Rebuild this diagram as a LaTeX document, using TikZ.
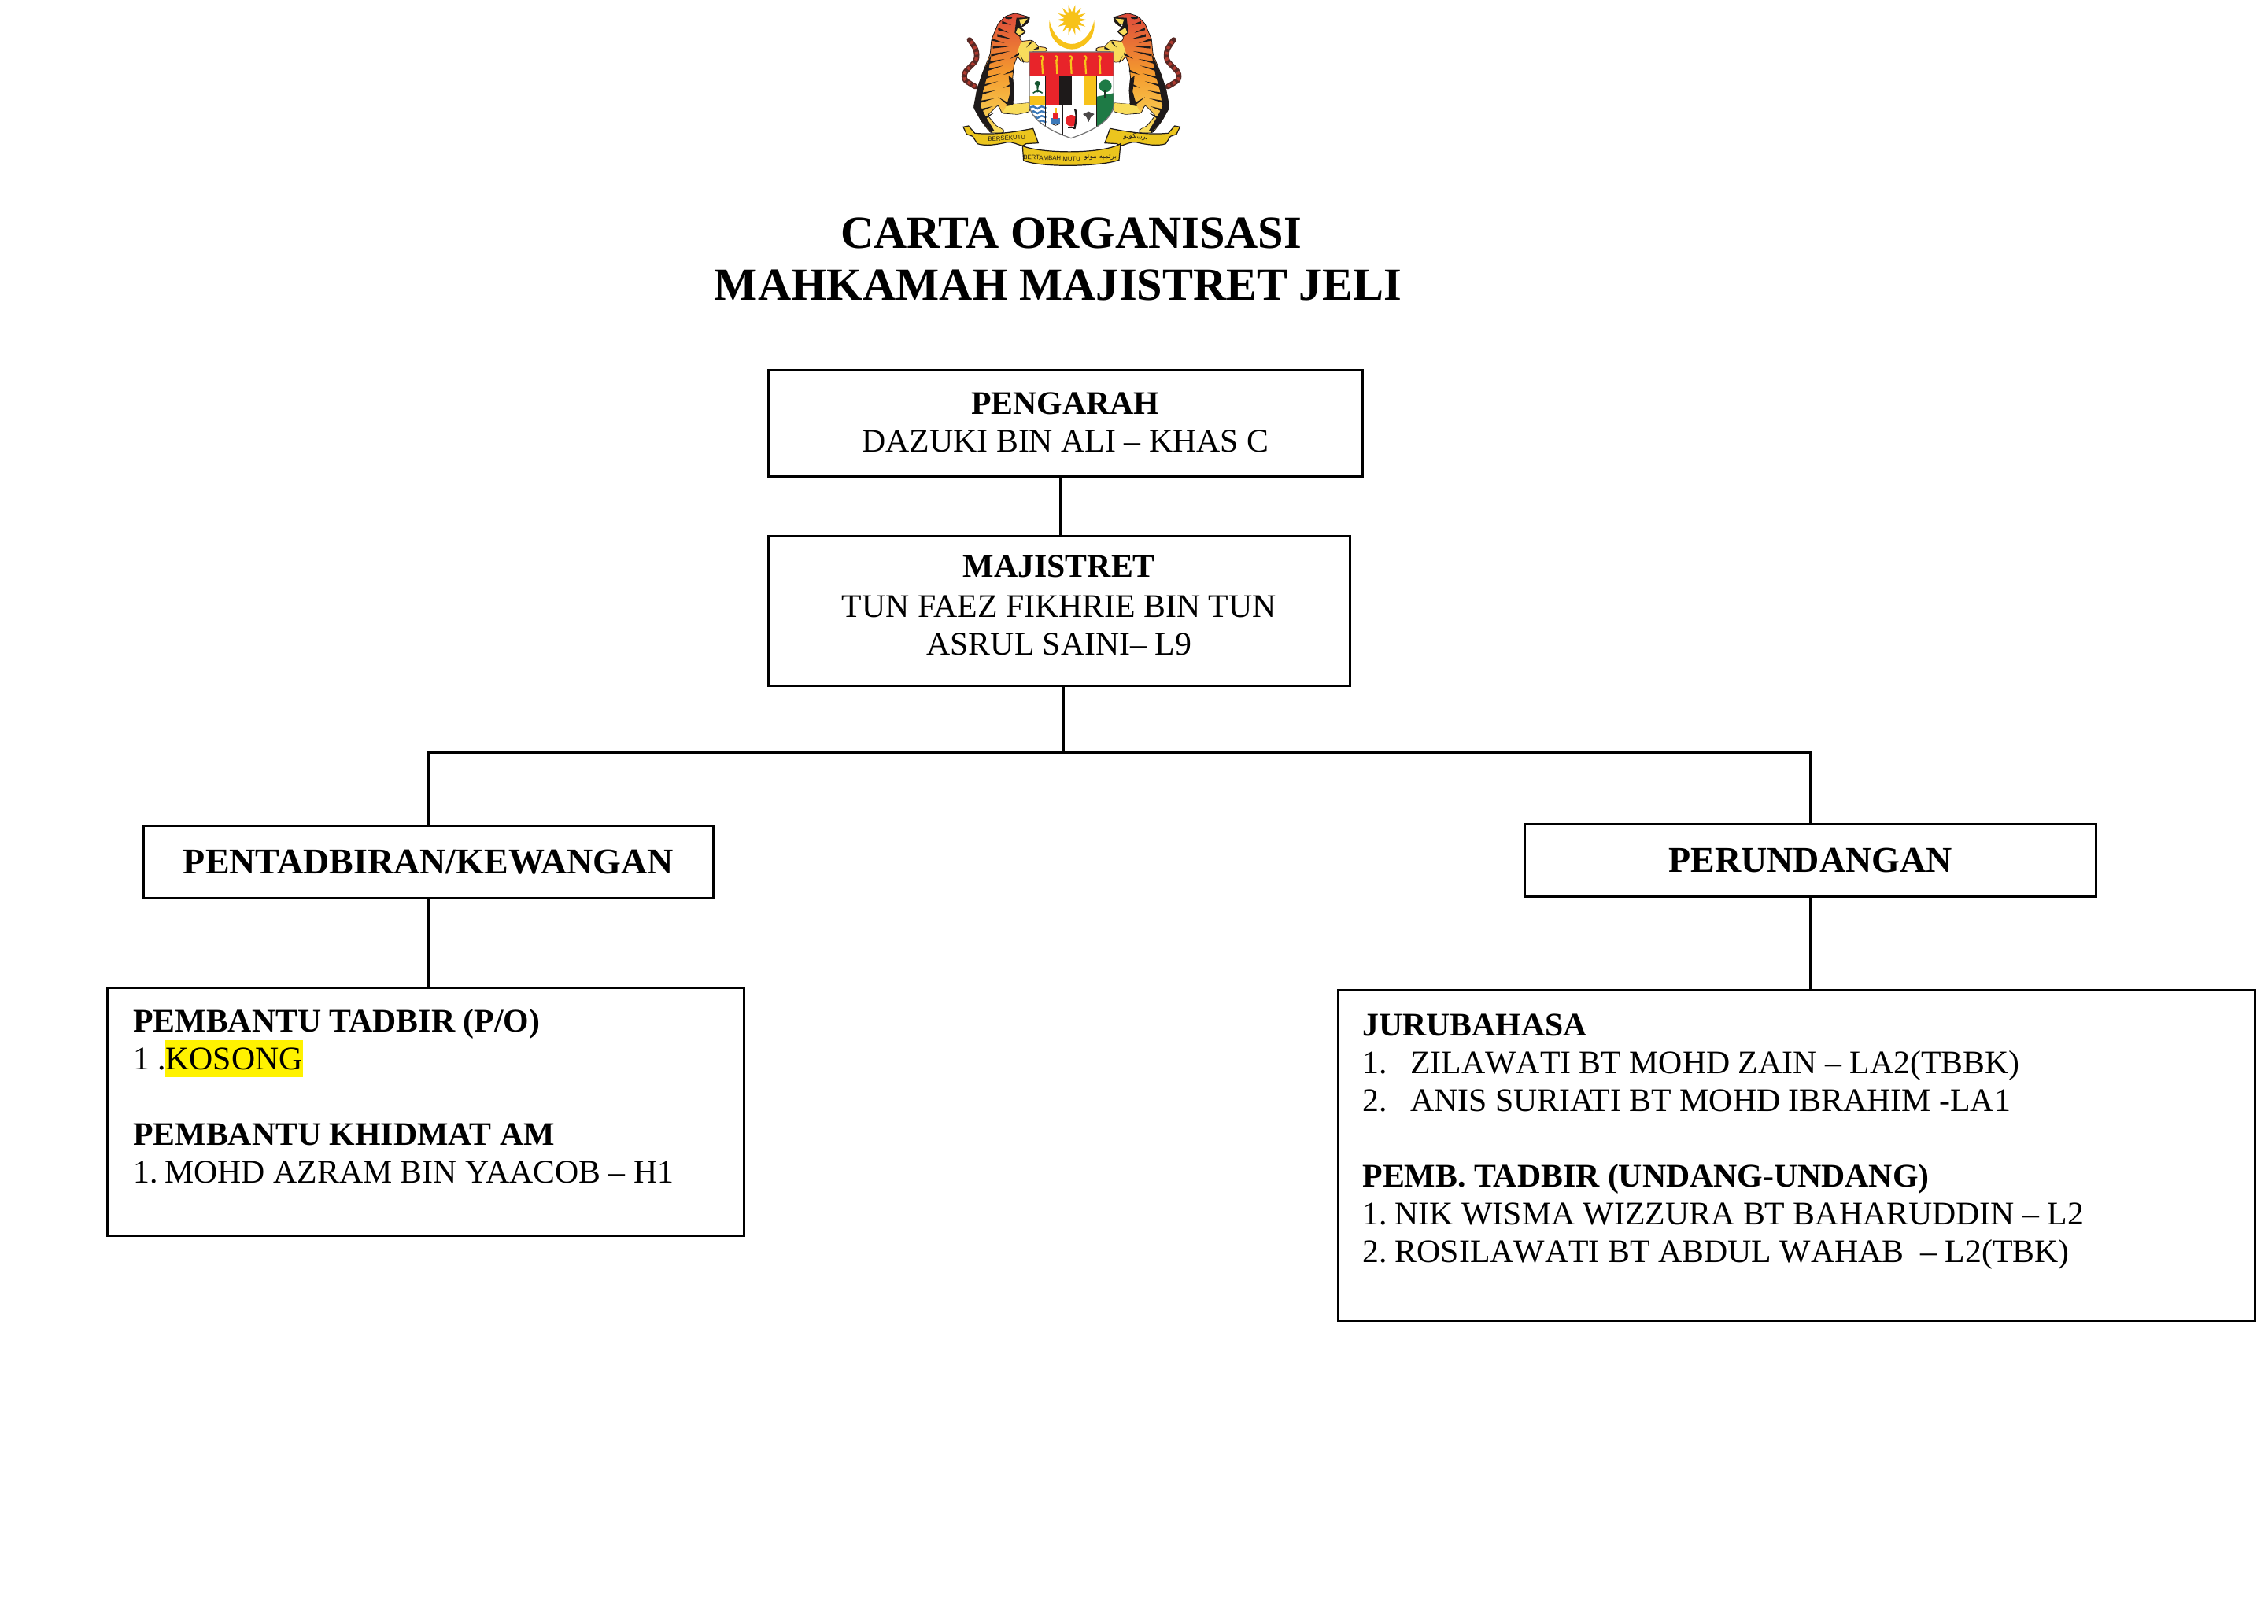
\documentclass[tikz,border=0pt]{standalone}
\usepackage{fontspec}
\setmainfont{Liberation Serif}
\newfontfamily\arabicfont[Script=Arabic]{DejaVu Sans}
\newfontfamily\crestfont{Liberation Sans}
\TeXXeTstate=1
\newdimen\px \px=.24878pt
\definecolor{crestred}{HTML}{E8242A}
\definecolor{crestblack}{HTML}{1E1A1A}
\definecolor{crestgold}{HTML}{F7C21A}
\definecolor{crestgreen}{HTML}{1E7A45}
\definecolor{crestblue}{HTML}{3B78B8}
\definecolor{ribbon}{HTML}{EBC51E}
\definecolor{tigerred}{HTML}{DE4A3C}
\definecolor{tigermid}{HTML}{F49A2E}
\definecolor{tigeryel}{HTML}{F8DC5C}
\tikzset{
  orgbox/.style={draw=black,line width=.75pt,fill=white,inner sep=0pt,outer sep=0pt},
  wire/.style={draw=black,line width=.75pt},
  headtext/.style={font=\fontsize{11.5}{14}\selectfont\bfseries},
  titletext/.style={font=\fontsize{14.6}{16}\selectfont\bfseries,inner sep=0pt,anchor=base},
  cresttext/.style={font=\crestfont\fontsize{1.95}{3}\selectfont,inner sep=0pt,text=crestblack},
  jawitext/.style={font=\arabicfont\fontsize{2.2}{3}\selectfont,inner sep=0pt,text=crestblack},
}
\newcommand{\bodyfont}{\fontsize{10.45}{12}\selectfont}
\newcommand{\orgcontent}[4]{\parbox[c][#2\px][t]{#1\px}{\vspace*{#3\px}\bodyfont\parindent=0pt #4}}
\newcommand{\numitem}[2]{\makebox[61\px][l]{#1}#2}
\newcommand{\nokern}{\addfontfeatures{Kerning=Off}}
\newcommand{\tiger}{%
  % tail
  \draw[line width=1.7pt,crestblack!70!tigerred,line cap=round] plot[smooth] coordinates {(178,330) (140,305) (140,275) (180,230) (180,190) (156,152)};
  \draw[line width=1pt,tigerred!80!black,dash pattern=on .9pt off 1pt] plot[smooth] coordinates {(178,330) (140,305) (140,275) (180,230) (180,190) (156,152)};
  % body
  \path[draw=crestblack,line width=.2pt,top color=tigerred,bottom color=tigeryel,middle color=tigermid,rounded corners=.6pt]
    (292,62) -- (330,50) -- (386,66) -- (380,85) -- (362,100) -- (350,102) -- (370,122) -- (346,140) -- (352,158)
    -- (395,153) -- (420,178) -- (450,182) -- (452,196) -- (395,196) -- (384,205) -- (384,238) -- (355,235) -- (338,215)
    -- (325,250) -- (320,300) -- (325,345) -- (320,398) -- (386,392) -- (386,425) -- (340,436) -- (280,432) -- (265,400)
    -- (225,440) -- (258,480) -- (286,495) -- (286,506) -- (235,506) -- (200,460) -- (172,410)
    -- (185,340) -- (205,280) -- (235,205) -- (240,150) -- (265,90) -- cycle;
  % pale paws
  \fill[tigeryel,rounded corners=.6pt] (352,160) -- (395,155) -- (420,180) -- (449,184) -- (450,195) -- (395,195) -- (383,205) -- (383,237) -- (356,234) -- (336,205) -- cycle;
  \fill[tigeryel,rounded corners=.6pt] (300,398) -- (385,393) -- (385,424) -- (340,435) -- (282,430) -- cycle;
  \fill[tigeryel,rounded corners=.6pt] (240,480) -- (258,481) -- (285,496) -- (285,505) -- (238,505) -- cycle;
  % dark flank
  \fill[crestblack] (240,205) -- (205,280) -- (185,340) -- (172,410) -- (200,460) -- (238,505) -- (250,498) -- (218,445) -- (198,405) -- (208,345) -- (225,285) -- cycle;
  \fill[crestblack] (305,290) -- (322,300) -- (326,345) -- (322,400) -- (296,405) -- (312,350) -- cycle;
  % stripes
  \foreach \a/\b/\c/\d in {
    240/150/290/165, 245/180/305/178, 240/210/310/195, 225/240/290/225, 212/270/285/250,
    205/300/275/280, 195/330/265/310, 190/360/255/345, 190/390/250/375, 200/420/245/405,
    215/450/250/430, 265/110/305/125, 262/135/320/150, 280/85/315/95}
    {\fill[crestblack] (\a,\b-5) -- (\c,\d) -- (\a,\b+5) -- cycle;}
  \foreach \a/\b/\c/\d in {
    345/205/310/225, 325/270/285/285, 322/320/285/335, 300/395/265/370,
    392/160/372/182, 420/182/398/190, 362/236/350/212}
    {\fill[crestblack] (\a,\b-5) -- (\c,\d) -- (\a,\b+5) -- cycle;}
  % face
  \fill[crestblack] (335,68) -- (386,66) -- (380,85) -- (362,100) -- (350,102) -- (370,122) -- (346,140) -- (328,125) -- cycle;
  \fill[tigeryel] (345,74) -- (378,71) -- (360,92) -- (352,95) -- cycle;
  \fill[tigeryel] (340,105) -- (364,122) -- (346,134) -- (333,124) -- cycle;
  \fill[white] (350,96) -- (358,93) -- (354,100) -- cycle;
  \fill[crestblack] (305,68) ellipse (14 and 5);
}
\begin{document}
\begin{tikzpicture}[x=.24878pt,y=-.24878pt]
\useasboundingbox (0,0) rectangle (2896.2,2073.6);
\fill[white] (0,0) rectangle (2896.2,2073.6);

% ---------- crest ----------
\begin{scope}[shift={(1185.8,0)},x=.083333pt,y=-.083333pt]
  % sun
  \fill[crestgold] (546,76) circle (32);
  \foreach \k in {0,...,13}
    \fill[crestgold] ({546+58*cos(\k*360/14)},{76+58*sin(\k*360/14)})
      -- ({546+28*cos(\k*360/14+14)},{76+28*sin(\k*360/14+14)})
      -- ({546+28*cos(\k*360/14-14)},{76+28*sin(\k*360/14-14)}) -- cycle;
  % crescent
  \fill[crestgold] (461,78) .. controls (452,150) and (505,188) .. (546,188)
     .. controls (587,188) and (640,150) .. (631,78)
     .. controls (620,130) and (585,168) .. (546,168)
     .. controls (507,168) and (472,130) .. (461,78) -- cycle;
  % tigers
  \tiger
  \begin{scope}[shift={(1090,0)},xscale=-1]
    \tiger
  \end{scope}
  % shield
  \begin{scope}
    \clip (384,198) -- (706,198) -- (706,395) .. controls (706,450) and (640,495) .. (543,527)
      .. controls (450,495) and (384,450) .. (384,395) -- cycle;
    \fill[white] (380,190) rectangle (710,530);
    \fill[crestred] (384,198) rectangle (706,290);
    \fill[crestred] (447,290) rectangle (497,400);
    \fill[crestblack] (497,290) rectangle (545,400);
    \fill[crestgold] (593,290) rectangle (642,400);
    \fill[crestgreen] (642,368) -- (706,355) -- (706,530) -- (642,530) -- cycle;
    \fill[crestgold] (384,366) rectangle (447,400);
    \foreach \yy in {410,428,446,464}
      \draw[crestblue,line width=.6pt] plot[smooth] coordinates {(386,\yy) (400,\yy-4) (415,\yy+4) (430,\yy-4) (448,\yy+3)};
    \draw[crestblack,line width=.25pt] (384,290) -- (706,290) (447,290) -- (447,500) (512,400) -- (512,520)
      (577,400) -- (577,520) (642,290) -- (642,500) (384,400) -- (706,400);
    % palm
    \fill[crestgreen!70!black] (413,352) -- (417,352) -- (420,322) -- (412,322) -- cycle;
    \fill[crestgreen!70!black] (415,318) ellipse (11 and 9);
    \draw[crestgreen!70!black,line width=.4pt] (398,355) .. controls (410,345) and (422,345) .. (434,355);
    % tree
    \fill[crestgreen] (674,328) circle (24);
    \fill[crestblack!70!crestgreen] (670,345) rectangle (678,375);
    % penang panel
    \fill[crestblue] (468,450) rectangle (500,472);
    \fill[crestred] (474,430) rectangle (494,452);
    \fill[crestgold] (479,412) rectangle (489,430);
    \draw[crestblack,line width=.2pt] (468,472) -- (484,478) -- (500,472);
    % hibiscus
    \fill[crestred] (544,460) circle (22);
    \draw[crestblack,line width=.6pt] (558,415) .. controls (568,445) and (560,470) .. (556,492);
    \fill[crestblack] (532,482) rectangle (554,490);
    % bird
    \fill[crestblack!80] (610,425) -- (632,435) -- (618,447) -- (610,465) -- (602,447) -- (588,435) -- cycle;
    % keris
    \foreach \kx in {432,487,542,597,652} {
      \draw[crestgold,line width=.55pt] (\kx,228) -- (\kx+3,282);
      \draw[crestgold,line width=.55pt] (\kx-6,215) .. controls (\kx+4,212) and (\kx+8,220) .. (\kx,232);
    }
  \end{scope}
  \draw[black!55,line width=.3pt] (384,198) -- (706,198) -- (706,395) .. controls (706,450) and (640,495) .. (543,527)
      .. controls (450,495) and (384,450) .. (384,395) -- cycle;
  % ribbon
  \path[fill=ribbon,draw=crestblack,line width=.3pt]
    (132,484) -- (152,480) -- (176,508) .. controls (250,515) and (320,505) .. (398,490)
    -- (418,545) -- (372,548) -- (358,556) .. controls (340,552) and (320,540) .. (300,542)
    .. controls (260,552) and (215,558) .. (186,548) -- (168,520) -- (145,512) -- cycle;
  \path[fill=ribbon,draw=crestblack,line width=.3pt]
    (958,484) -- (938,480) -- (914,508) .. controls (840,515) and (770,505) .. (692,490)
    -- (672,545) -- (718,548) -- (732,556) .. controls (750,552) and (770,540) .. (790,542)
    .. controls (830,552) and (875,558) .. (904,548) -- (922,520) -- (945,512) -- cycle;
  \path[fill=ribbon,draw=crestblack,line width=.3pt]
    (358,556) .. controls (420,585) and (660,590) .. (732,548) -- (726,610)
    .. controls (660,635) and (430,640) .. (362,612) -- cycle;
  \node[cresttext,rotate=4] (ribbonleft) at (298,527) {BERSEKUTU};
  \node[cresttext,rotate=-2] (ribbonmid) at (470,603) {BERTAMBAH MUTU};
  \node[jawitext] (ribbonmidj) at (655,600) {\beginR برتمبه موتو\endR};
  \node[jawitext,rotate=-4] (ribbonright) at (790,522) {\beginR برسكوتو\endR};
\end{scope}

% ---------- title ----------
\node[titletext] (title1) at (1368,317) {CARTA ORGANISASI};
\node[titletext] (title2) at (1351,383) {MAHKAMAH MAJISTRET JELI};

% ---------- boxes ----------
\node[orgbox] (pengarah) at (1360.5,540.5) {\orgcontent{759}{135}{28}{\centering \textbf{PENGARAH}\\DAZUKI BIN ALI – KHAS C\par}};
\node[orgbox] (majistret) at (1352.5,780.5) {\orgcontent{743}{191}{24}{\centering \textbf{MAJISTRET}\\[3\px]TUN FAEZ FIKHRIE BIN TUN\\ASRUL SAINI– L9\par}};
\node[orgbox,headtext,minimum width=728\px,minimum height=92\px] (pentadbiran) at (547,1101) {PENTADBIRAN/KEWANGAN};
\node[orgbox,headtext,minimum width=730\px,minimum height=92\px] (perundangan) at (2312,1099) {PERUNDANGAN};
\node[orgbox] (pembantu) at (543.5,1420) {\orgcontent{813}{316}{27}{\leftskip=33\px
  \textbf{PEMBANTU TADBIR (P/O)}\\
  1\hspace{10\px}.{\setlength{\fboxsep}{0pt}\smash{\colorbox{yellow}{\rule[-9\px]{0pt}{47\px}KOSONG}}}\\[48\px]
  \textbf{PEMBANTU KHIDMAT AM}\\
  1.\hspace{9\px}MOHD AZRAM BIN YAACOB – H1\par}};
\node[orgbox] (jurubahasa) at (2294.5,1476) {\orgcontent{1171}{422}{30}{\leftskip=31\px
  \textbf{JURUBAHASA}\\
  \numitem{1.}{{\nokern ZILAWATI BT MOHD ZAIN – LA2(TBBK)}}\\
  \numitem{2.}{ANIS SURIATI BT MOHD IBRAHIM -LA1}\\[48\px]
  \textbf{PEMB. TADBIR (UNDANG-UNDANG)}\\
  1.\hspace{10\px}NIK WISMA WIZZURA BT BAHARUDDIN – L2\\
  2.\hspace{10\px}{\nokern ROSILAWATI BT ABDUL WAHAB\ \ – L2(TBK)}\par}};

% ---------- connectors ----------
\coordinate (bus) at (1358,961);
\draw[wire] ([xshift=2\px]majistret.north) -- ([xshift=2\px]majistret.north |- pengarah.south);
\draw[wire] (bus) -- (bus |- majistret.south);
\draw[wire] (pentadbiran.north) -- (pentadbiran.north |- bus) -- (perundangan.north |- bus) -- (perundangan.north);
\draw[wire] (pentadbiran.south) -- (pentadbiran.south |- pembantu.north);
\draw[wire] (perundangan.south) -- (perundangan.south |- jurubahasa.north);
\end{tikzpicture}
\end{document}
